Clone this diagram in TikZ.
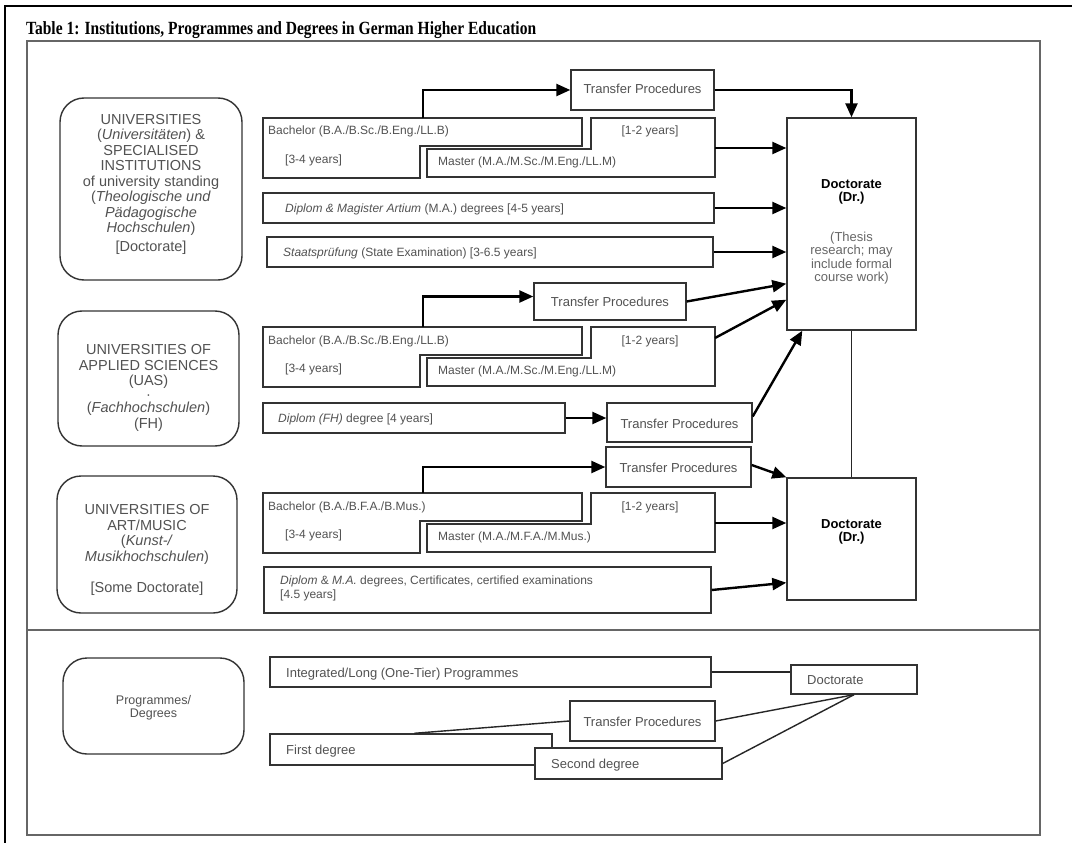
\documentclass[tikz,border=0pt]{standalone}
\usepackage{fontspec}
\setmainfont{Liberation Sans}
\newfontfamily\titlefont{Liberation Serif}
\usetikzlibrary{arrows.meta,fit,calc}

\newcommand\bmpair[4]{%
\begin{scope}[shift={(0,#2)}]
  \draw[box] (263,0) -- (582,0) -- (582,28) -- (420,28) -- (420,60) -- (263,60) -- cycle;
  \draw[box] (427,31) -- (591,31) -- (591,0) -- (715,0) -- (715,59) -- (427,59) -- cycle;
  \coordinate (#1b) at (423,0);
  \coordinate (#1m) at (715,30);
  \coordinate (#1mu) at (715,11);
  \node[txt, anchor=base west] (#1bt) at (268,17) {#3};
  \node[txt, anchor=base west] (#1by) at (285,45) {[3-4 years]};
  \node[txt, anchor=base west] (#1mt) at (438,47) {#4};
  \node[txt, anchor=base] (#1my) at (650,17) {[1-2 years]};
\end{scope}}

\begin{document}
\begin{tikzpicture}[x=1pt,y=-1pt,
  box/.style={draw=black!80, line width=1.4pt, fill=white, inner sep=0pt},
  rbox/.style={box, rounded corners=24pt},
  txt/.style={text=black!68, inner sep=0pt, font=\fontsize{12}{13.5}\selectfont},
  ltxt/.style={text=black!68, inner sep=0pt, align=center, font=\fontsize{14.5}{15.5}\selectfont},
  ttxt/.style={text=black!68, inner sep=0pt, font=\fontsize{13}{14}\selectfont},
  arr/.style={line width=2.4pt, -{Triangle[length=14pt,width=12pt]}},
  link/.style={line width=1.4pt, draw=black!85},
  frm/.style={draw=black!60, line width=1.5pt},
]
\useasboundingbox (0,0) rectangle (1072,843);
\fill[white] (0,0) rectangle (1072,843);

% page edges
\draw[line width=2.5pt] (5,843) -- (5,6) -- (1072,6);

% title
\node[anchor=base west, inner sep=0pt, font=\titlefont\bfseries\fontsize{15.5}{17}\selectfont] (title) at (26,35)
  {\scalebox{1}[1.2]{Table 1: Institutions, Programmes and Degrees in German Higher Education}};

% inner frame and divider
\node[frm, fit={(27,41) (1040,835)}, inner sep=0pt] (frame) {};
\draw[frm] (frame.west |- 0,630) -- (frame.east |- 0,630);

% left institution boxes
\node[rbox, fit={(60,98) (242,280)}] (u1) {};
\node[ltxt] (u1t) at (151,184) {UNIVERSITIES\\(\textit{Universitäten}) \&\\SPECIALISED\\INSTITUTIONS\\of university standing\\(\textit{Theologische und}\\\textit{Pädagogische}\\\textit{Hochschulen})\\[3pt][Doctorate]};
\node[rbox, fit={(58,311) (239,446)}] (u2) {};
\node[ltxt] (u2t) at (148.5,388) {UNIVERSITIES OF\\APPLIED SCIENCES\\(UAS)\\[-2pt]·\\[-2pt](\textit{Fachhochschulen})\\(FH)};
\node[rbox, fit={(57,476) (237,613)}] (u3) {};
\node[ltxt] (u3t) at (147,550) {UNIVERSITIES OF\\ART/MUSIC\\(\textit{Kunst-/}\\\textit{Musikhochschulen})\\[15.5pt][Some Doctorate]};

% bachelor / master pairs
\bmpair{s1}{118}{Bachelor (B.A./B.Sc./B.Eng./LL.B)}{Master (M.A./M.Sc./M.Eng./LL.M)}
\bmpair{s2}{327}{Bachelor (B.A./B.Sc./B.Eng./LL.B)}{Master (M.A./M.Sc./M.Eng./LL.M)}
\bmpair{s3}{493}{Bachelor (B.A./B.F.A./B.Mus.)}{Master (M.A./M.F.A./M.Mus.)}

% other programme boxes
\node[box, fit={(263,193) (714,223)}] (dip1) {};
\node[txt, anchor=base west] (dip1t) at (285,212) {\textit{Diplom \& Magister Artium} (M.A.) degrees [4-5 years]};
\node[box, fit={(267,237) (713,267)}] (st1) {};
\node[txt, anchor=base west] (st1t) at (283,256) {\textit{Staatsprüfung} (State Examination) [3-6.5 years]};
\node[box, fit={(263,403) (565,433)}] (dfh) {};
\node[txt, anchor=base west] (dfht) at (278,422) {\textit{Diplom (FH)} degree [4 years]};
\node[box, fit={(264,567) (711,613)}] (dip3) {};
\node[txt, anchor=north west, align=left] (dip3t) at (280,576) {\textit{Diplom} \& \textit{M.A.} degrees, Certificates, certified examinations\\{}[4.5 years]};

% transfer procedures
\node[box, fit={(571,70) (714,110)}] (t1) {};
\node[ttxt] (t1t) at (642.5,89) {Transfer Procedures};
\node[box, fit={(534,283) (686,320)}] (t2) {};
\node[ttxt] (t2t) at (610,302) {Transfer Procedures};
\node[box, fit={(607,403) (752,442)}] (t3) {};
\node[ttxt] (t3t) at (679.5,424) {Transfer Procedures};
\node[box, fit={(606,447) (751,487)}] (t4) {};
\node[ttxt] (t4t) at (678.5,468) {Transfer Procedures};

% doctorates
\node[box, fit={(787,118) (916,330)}] (d1) {};
\node[align=center, inner sep=0pt, font=\fontsize{13}{13.5}\selectfont] (d1t) at (851.5,232)
  {\textbf{Doctorate}\\\textbf{(Dr.)}\\[26pt]\textcolor{black!60}{(Thesis}\\\textcolor{black!60}{research; may}\\\textcolor{black!60}{include formal}\\\textcolor{black!60}{course work)}};
\node[box, fit={(787,478) (916,600)}] (d2) {};
\node[align=center, inner sep=0pt, font=\bfseries\fontsize{13}{13.5}\selectfont] (d2t) at (851.5,532) {Doctorate\\(Dr.)};

% arrows, upper part
\draw[arr] (s1b) |- (t1);
\draw[arr] (t1) -| (d1);
\draw[arr] (s1m) -- (s1m -| d1.west);
\draw[arr] (dip1) -- (dip1 -| d1.west);
\draw[arr] (st1) -- (st1 -| d1.west);
\draw[arr] (s2b) |- ([yshift=5pt]t2.west);
\draw[arr] (t2.east) -- ([yshift=47pt]d1.south west);
\draw[arr] (s2mu) -- ([yshift=31pt]d1.south west);
\draw[arr] (dfh) -- (dfh -| t3.west);
\draw[arr] ([yshift=6pt]t3.east) -- ([xshift=16pt]d1.south west);
\draw[link] (d1) -- (d2);
\draw[arr] (s3b) |- (t4);
\draw[arr] ([yshift=2pt]t4.east) -- (d2.north west);
\draw[arr] (s3m) -- (s3m -| d2.west);
\draw[arr] (dip3.east) -- ([yshift=18pt]d2.south west);

% lower part
\node[rbox, fit={(63,658) (244,754)}] (pd) {};
\node[align=center, inner sep=0pt, text=black!68, font=\fontsize{12.5}{13}\selectfont] (pdt) at (153.5,708) {Programmes/\\Degrees};
\node[box, fit={(270,657) (711,687)}] (int) {};
\node[ttxt, anchor=base west] (intt) at (286,677) {Integrated/Long (One-Tier) Programmes};
\node[box, fit={(270,734) (552,765)}] (fd) {};
\node[ttxt, anchor=base west] (fdt) at (286,754) {First degree};
\node[box, fit={(535,748) (722,779)}] (sd) {};
\node[ttxt, anchor=base west] (sdt) at (551,768) {Second degree};
\node[box, fit={(570,701) (715,741)}] (t5) {};
\node[ttxt] (t5t) at (642.5,722) {Transfer Procedures};
\node[box, fit={(791,665) (917,694)}] (d3) {};
\node[ttxt, anchor=base west] (d3t) at (807,684) {Doctorate};

\draw[link] (int) -- (int -| d3.west);
\draw[link] ($(fd.north west)+(145,0)$) -- (t5.west);
\draw[link] (t5.east) -- (d3.south);
\draw[link] (sd.east) -- (d3.south);
\end{tikzpicture}
\end{document}
